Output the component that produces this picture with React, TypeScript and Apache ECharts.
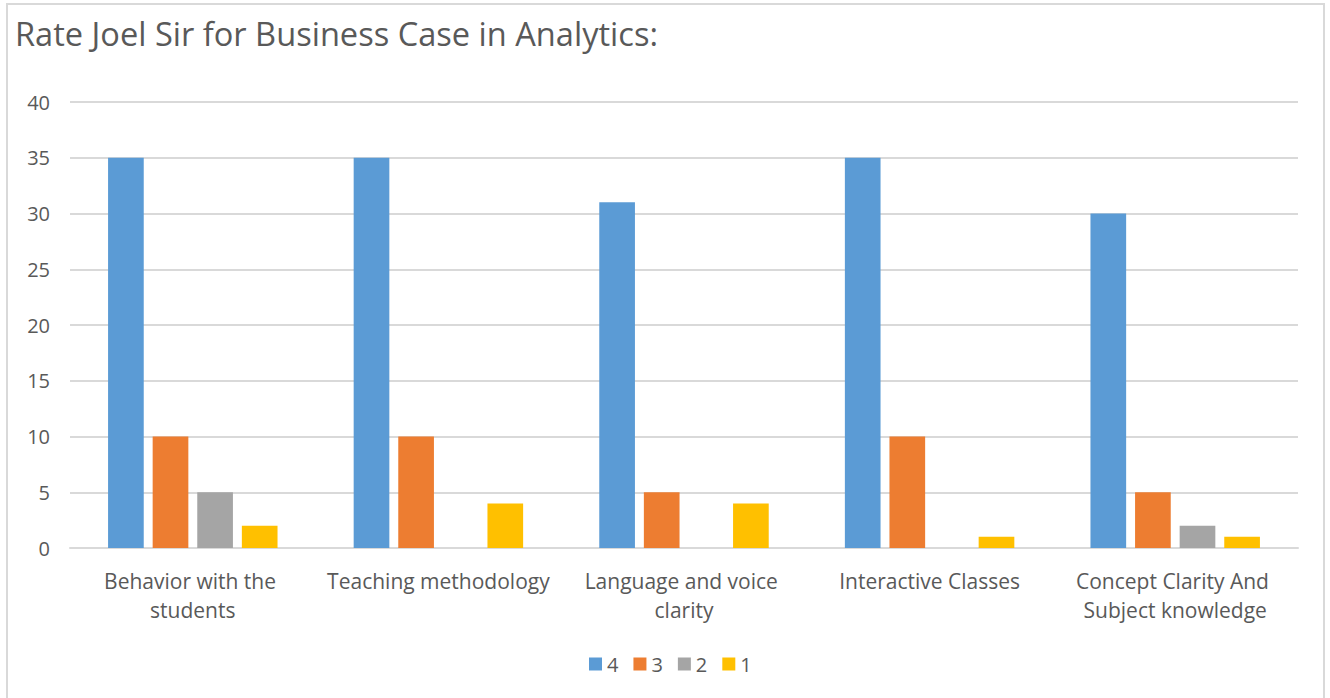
import React, { useEffect, useRef } from "react";
import * as echarts from "echarts";

const categories = [
  "Behavior with the students",
  "Teaching methodology",
  "Language and voice clarity",
  "Interactive Classes",
  "Concept Clarity And Subject knowledge",
];
const seriesNames = ["4", "3", "2", "1"];
const rating4 = [35, 35, 31, 35, 30];
const rating3 = [10, 10, 5, 10, 5];
const rating2 = [5, 0, 0, 0, 2];
const rating1 = [2, 4, 4, 1, 1];
const yTicks = { min: 0, max: 40, interval: 5 };
const colors = ["#5B9BD5", "#ED7D31", "#A5A5A5", "#FFC000"];

export default function App() {
  const ref = useRef<HTMLDivElement>(null);
  useEffect(() => {
    if (!ref.current) return;
    const chart = echarts.init(ref.current, null, { renderer: "svg" });
    const font = "'Open Sans', sans-serif";
    const values = [rating4, rating3, rating2, rating1];
    chart.setOption({
      animation: false,
      backgroundColor: "#ffffff",
      color: colors,
      title: {
        text: "Rate Joel Sir for Business Case in Analytics:",
        left: 7,
        top: 12,
        padding: 0,
        textStyle: { fontFamily: font, fontSize: 32.6, fontWeight: "normal", color: "#595959" },
      },
      legend: {
        top: 644,
        left: 576,
        itemWidth: 13,
        itemHeight: 13,
        itemGap: 15,
        icon: "rect",
        textStyle: { fontFamily: font, fontSize: 20, color: "#595959" },
        data: seriesNames,
      },
      grid: { left: 62, right: 25, top: 97, bottom: 153, containLabel: false },
      xAxis: {
        type: "category",
        data: categories,
        axisLine: { lineStyle: { color: "#D9D9D9", width: 2 } },
        axisTick: { show: false },
        axisLabel: {
          fontFamily: font,
          fontSize: 21,
          color: "#595959",
          margin: 18,
          lineHeight: 29,
          width: 236,
          overflow: "break",
          interval: 0,
        },
      },
      yAxis: {
        type: "value",
        min: yTicks.min,
        max: yTicks.max,
        interval: yTicks.interval,
        axisLine: { show: false },
        axisTick: { show: false },
        splitLine: { lineStyle: { color: "#D9D9D9", width: 2 } },
        axisLabel: { fontFamily: font, fontSize: 20, color: "#595959", margin: 20 },
      },
      series: seriesNames.map((name, i) => ({
        name,
        type: "bar",
        data: values[i],
        barGap: "25%",
        barCategoryGap: "31%",
      })),
    });
    return () => chart.dispose();
  }, []);
  return (
    <div
      style={{
        position: "fixed",
        left: 0,
        top: 0,
        width: 1330,
        height: 698,
        background: "#fff",
      }}
    >
      <div
        ref={ref}
        style={{
          position: "absolute",
          left: 6,
          top: 3,
          width: 1319,
          height: 700,
          border: "2px solid #D9D9D9",
          boxSizing: "border-box",
        }}
      />
    </div>
  );
}
